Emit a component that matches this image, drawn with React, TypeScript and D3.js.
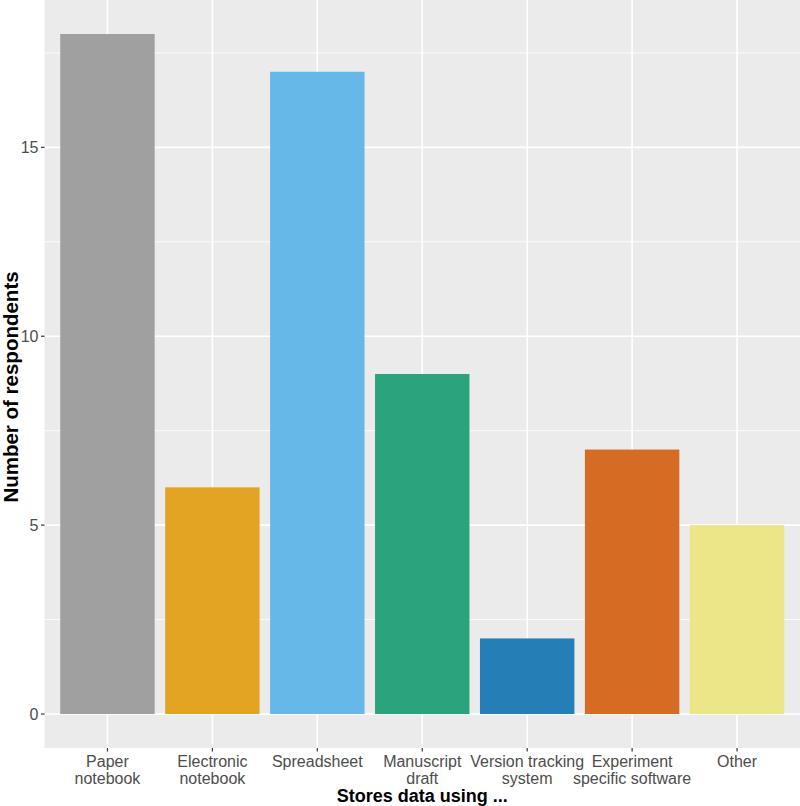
import React, { useEffect, useRef } from "react";
import * as d3 from "d3";

const categories = [
  "Paper notebook",
  "Electronic notebook",
  "Spreadsheet",
  "Manuscript draft",
  "Version tracking system",
  "Experiment specific software",
  "Other",
];
const tickLabels = [
  ["Paper", "notebook"],
  ["Electronic", "notebook"],
  ["Spreadsheet"],
  ["Manuscript", "draft"],
  ["Version tracking", "system"],
  ["Experiment", "specific software"],
  ["Other"],
];
const counts = [18, 6, 17, 9, 2, 7, 5];
const barColors = ["#a0a0a0", "#e3a424", "#66b8e8", "#2ba37d", "#257eb6", "#d66c24", "#ede688"];
const yTicks = [0, 5, 10, 15];
const yMinor = [2.5, 7.5, 12.5, 17.5];

const App = () => {
  const ref = useRef<SVGSVGElement>(null);

  useEffect(() => {
    const svg = d3.select(ref.current);
    svg.selectAll("*").remove();
    const width = 800;
    const height = 806;
    const panel = { left: 44.5, right: 800, top: 0, bottom: 748 };
    const font = "'Liberation Sans', Arial, sans-serif";

    // ggplot-like expansions
    const maxV = d3.max(counts) as number;
    const y = d3
      .scaleLinear()
      .domain([-0.05 * maxV, maxV * 1.05])
      .range([panel.bottom, panel.top]);
    const x = d3
      .scaleBand()
      .domain(categories)
      .range([panel.left, panel.right])
      .paddingInner(0.1)
      .paddingOuter(0.15);
    const cx = (c: string) => (x(c) as number) + x.bandwidth() / 2;

    svg.attr("width", width).attr("height", height);

    svg
      .append("rect")
      .attr("x", panel.left)
      .attr("y", panel.top)
      .attr("width", panel.right - panel.left)
      .attr("height", panel.bottom - panel.top)
      .attr("fill", "#ebebeb");

    const grid = svg.append("g").attr("stroke", "#fff");
    grid
      .selectAll(".minor")
      .data(yMinor)
      .enter()
      .append("line")
      .attr("x1", panel.left)
      .attr("x2", panel.right)
      .attr("y1", (d) => y(d))
      .attr("y2", (d) => y(d))
      .attr("stroke-width", 0.8);
    grid
      .selectAll(".major")
      .data(yTicks)
      .enter()
      .append("line")
      .attr("x1", panel.left)
      .attr("x2", panel.right)
      .attr("y1", (d) => y(d))
      .attr("y2", (d) => y(d))
      .attr("stroke-width", 1.6);
    grid
      .selectAll(".vmajor")
      .data(categories)
      .enter()
      .append("line")
      .attr("x1", (d) => cx(d))
      .attr("x2", (d) => cx(d))
      .attr("y1", panel.top)
      .attr("y2", panel.bottom)
      .attr("stroke-width", 1.6);

    svg
      .append("g")
      .selectAll("rect")
      .data(counts)
      .enter()
      .append("rect")
      .attr("x", (d, i) => x(categories[i]) as number)
      .attr("y", (d) => y(d))
      .attr("width", x.bandwidth())
      .attr("height", (d) => y(0) - y(d))
      .attr("fill", (d, i) => barColors[i]);

    // y axis ticks + labels
    const ya = svg.append("g");
    ya.selectAll("line")
      .data(yTicks)
      .enter()
      .append("line")
      .attr("x1", panel.left - 3.5)
      .attr("x2", panel.left)
      .attr("y1", (d) => y(d))
      .attr("y2", (d) => y(d))
      .attr("stroke", "#333")
      .attr("stroke-width", 1.2);
    ya.selectAll("text")
      .data(yTicks)
      .enter()
      .append("text")
      .attr("x", panel.left - 6)
      .attr("y", (d) => y(d))
      .attr("dy", "0.36em")
      .attr("text-anchor", "end")
      .attr("font-family", font)
      .attr("font-size", 16)
      .attr("fill", "#4d4d4d")
      .text((d) => d);

    // x axis ticks + labels
    const xa = svg.append("g");
    xa.selectAll("line")
      .data(categories)
      .enter()
      .append("line")
      .attr("x1", (d) => cx(d))
      .attr("x2", (d) => cx(d))
      .attr("y1", panel.bottom)
      .attr("y2", panel.bottom + 3.5)
      .attr("stroke", "#333")
      .attr("stroke-width", 1.2);
    const lbl = xa
      .selectAll("text")
      .data(categories)
      .enter()
      .append("text")
      .attr("text-anchor", "middle")
      .attr("font-family", font)
      .attr("font-size", 16)
      .attr("fill", "#4d4d4d");
    lbl.each(function (d, i) {
      const t = d3.select(this);
      tickLabels[i].forEach((line, j) => {
        t.append("tspan")
          .attr("x", cx(d))
          .attr("y", panel.bottom + 19 + j * 17)
          .text(line);
      });
    });

    svg
      .append("text")
      .attr("x", (panel.left + panel.right) / 2)
      .attr("y", 802)
      .attr("text-anchor", "middle")
      .attr("font-family", font)
      .attr("font-weight", "bold")
      .attr("font-size", 18)
      .attr("fill", "#000")
      .text("Stores data using ...");

    svg
      .append("text")
      .attr("transform", "translate(17.5,387) rotate(-90)")
      .attr("text-anchor", "middle")
      .attr("font-family", font)
      .attr("font-weight", "bold")
      .attr("font-size", 20.5)
      .attr("fill", "#000")
      .text("Number of respondents");
  }, []);

  return (
    <div style={{ position: "absolute", left: 0, top: 0 }}>
      <svg ref={ref} style={{ display: "block" }}></svg>
    </div>
  );
};

export default App;
